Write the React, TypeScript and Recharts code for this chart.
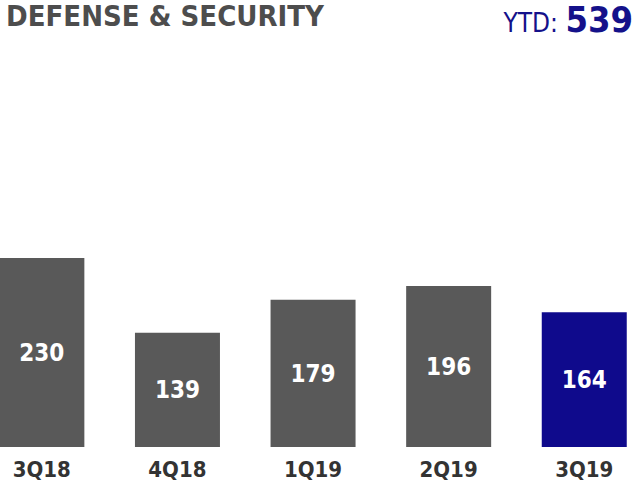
import React from "react";
import { BarChart, Bar, XAxis, YAxis, Cell, LabelList } from "recharts";

const quarters = ["3Q18", "4Q18", "1Q19", "2Q19", "3Q19"];
const values = [230, 139, 179, 196, 164];
const barColors = ["#595959", "#595959", "#595959", "#595959", "#0f0a8c"];
const title = "DEFENSE & SECURITY";
const ytdLabel = "YTD:";
const ytdValue = "539";

const FONT = "'DejaVu Sans Condensed', 'DejaVu Sans', sans-serif";

const data = quarters.map((q, i) => ({ q, v: values[i] }));

export default function App() {
  return (
    <div
      style={{
        position: "fixed",
        left: 0,
        top: 0,
        width: 633,
        height: 486,
        overflow: "hidden",
        background: "#fff",
        fontFamily: FONT,
      }}
    >
      <div
        style={{
          position: "absolute",
          left: 6,
          top: -2,
          fontSize: 29,
          lineHeight: "36px",
          fontWeight: "bold",
          color: "#4d4d4d",
          whiteSpace: "nowrap",
        }}
      >
        {title}
      </div>
      <div
        style={{
          position: "absolute",
          right: 0,
          top: 0,
          height: 34,
          display: "flex",
          alignItems: "baseline",
          color: "#14118a",
          whiteSpace: "nowrap",
        }}
      >
        <span style={{ fontSize: 26, lineHeight: "40px" }}>{ytdLabel}&nbsp;</span>
        <span style={{ fontSize: 36, lineHeight: "40px", fontWeight: "bold" }}>{ytdValue}</span>
      </div>
      <div style={{ position: "absolute", left: -26, top: 0 }}>
        <BarChart
          width={678}
          height={486}
          data={data}
          margin={{ top: 241.5, right: 0, bottom: 0, left: 0 }}
          barCategoryGap="18.7%"
        >
          <YAxis hide domain={[0, 250]} />
          <XAxis
            dataKey="q"
            height={39}
            axisLine={false}
            tickLine={false}
            tickMargin={8}
            tick={{ fill: "#333333", fontSize: 22, fontWeight: "bold", fontFamily: FONT }}
          />
          <Bar dataKey="v" isAnimationActive={false}>
            {data.map((d, i) => (
              <Cell key={d.q} fill={barColors[i]} />
            ))}
            <LabelList
              dataKey="v"
              position="center"
              fill="#ffffff"
              fontSize={24}
              fontWeight="bold"
              fontFamily={FONT}
            />
          </Bar>
        </BarChart>
      </div>
    </div>
  );
}
